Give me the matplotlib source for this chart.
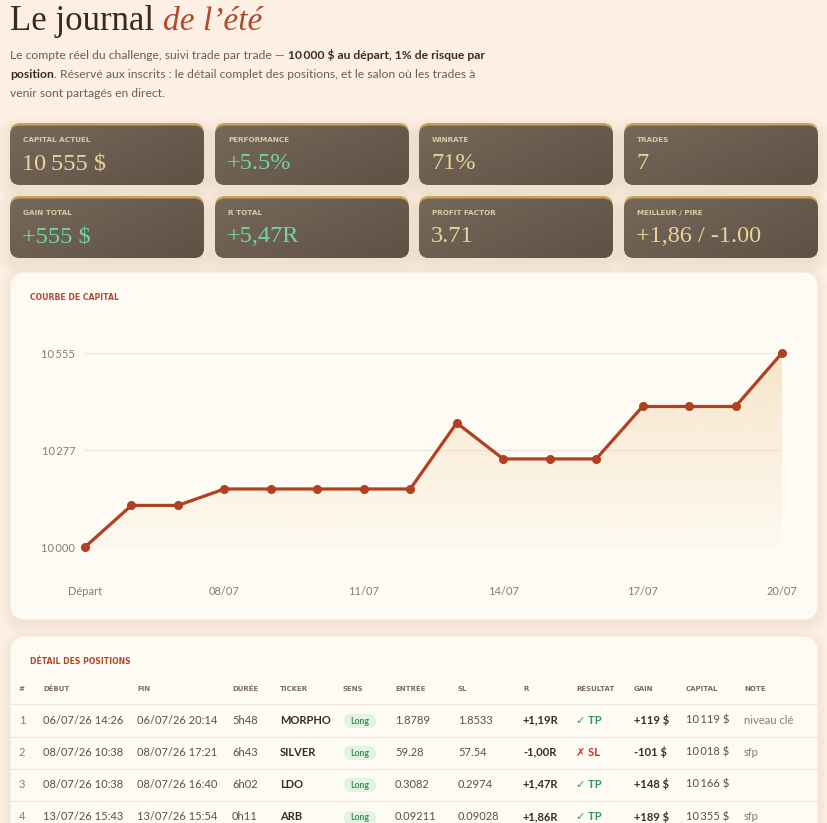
import numpy as np
import matplotlib
matplotlib.use("Agg")
import matplotlib.pyplot as plt
from matplotlib.patches import FancyBboxPatch, Polygon

W, H = 828, 823

# ---- data -------------------------------------------------------------
days = ["Départ", "06/07", "07/07", "08/07", "09/07", "10/07", "11/07", "12/07",
        "13/07", "14/07", "15/07", "16/07", "17/07", "18/07", "19/07", "20/07"]
capital = [10000, 10119, 10119, 10166, 10166, 10166, 10166, 10166,
           10355, 10252, 10252, 10252, 10402, 10402, 10402, 10555]
ytick_vals = [10000, 10277, 10555]
ytick_labels = ["10\u2009000", "10\u2009277", "10\u2009555"]
xtick_idx = [0, 3, 6, 9, 12, 15]

card_labels = ["CAPITAL ACTUEL", "PERFORMANCE", "WINRATE", "TRADES",
               "GAIN TOTAL", "R TOTAL", "PROFIT FACTOR", "MEILLEUR / PIRE"]
card_values = ["10\u2009555 $", "+5.5%", "71%", "7",
               "+555 $", "+5,47R", "3.71", "+1,86 / -1.00"]
card_green = [False, True, False, False, True, True, False, False]

headers = ["#", "DÉBUT", "FIN", "DURÉE", "TICKER", "SENS", "ENTRÉE", "SL",
           "R", "RÉSULTAT", "GAIN", "CAPITAL", "NOTE"]
trades = [
    ["1", "06/07/26 14:26", "06/07/26 20:14", "5h48", "MORPHO", "Long", "1.8789", "1.8533",
     "+1,19R", "✓ TP", "+119 $", "10\u2009119 $", "niveau clé"],
    ["2", "08/07/26 10:38", "08/07/26 17:21", "6h43", "SILVER", "Long", "59.28", "57.54",
     "-1,00R", "✗ SL", "-101 $", "10\u2009018 $", "sfp"],
    ["3", "08/07/26 10:38", "08/07/26 16:40", "6h02", "LDO", "Long", "0.3082", "0.2974",
     "+1,47R", "✓ TP", "+148 $", "10\u2009166 $", ""],
    ["4", "13/07/26 15:43", "13/07/26 15:54", "0h11", "ARB", "Long", "0.09211", "0.09028",
     "+1,86R", "✓ TP", "+189 $", "10\u2009355 $", "sfp"],
]

# ---- style ------------------------------------------------------------
BG = "#fcefe3"
PANEL = "#fefbf4"
RUST = "#b0401f"
TXT = "#6e5e52"
DARK = "#3b2b22"
SANS = ["Lato", "DejaVu Sans"]
CAPS = ["DejaVu Sans"]
SERIF = ["Liberation Serif", "DejaVu Serif"]
plt.rcParams["font.family"] = SANS

fig = plt.figure(figsize=(W / 100, H / 100), dpi=100, facecolor=BG)
bg = fig.add_axes([0, 0, 1, 1])
bg.set_xlim(0, W)
bg.set_ylim(H, 0)
bg.axis("off")
renderer = fig.canvas.get_renderer()


def rbox(x, y, w, h, r, **kw):
    p = FancyBboxPatch((x, y), w, h, boxstyle=f"round,pad=0,rounding_size={r}", **kw)
    bg.add_patch(p)
    return p


def shadow(x, y, w, h, r, color="#b08a62", n=7, a=0.025, dy=5):
    for i in range(n):
        g = (i + 1) * 2
        rbox(x - g + 2, y - g + dy + 2, w + 2 * g - 4, h + 2 * g - 4, r + g,
             facecolor=color, edgecolor="none", alpha=a, zorder=0.5)


def runs(x, y, parts, size, color, bold_color):
    for txt, bold in parts:
        t = bg.text(x, y, txt, fontsize=size, color=bold_color if bold else color,
                    fontweight="bold" if bold else "normal", va="center", ha="left",
                    family=SANS)
        x += t.get_window_extent(renderer=renderer).width


# ---- title ------------------------------------------------------------
t = bg.text(10, 30, "Le journal ", fontsize=25, color="#3a2920", family=SERIF,
            va="baseline")
tw = t.get_window_extent(renderer=renderer).width
bg.text(10 + tw, 30, "de l’été", fontsize=24, color="#b5472f", family=SERIF,
        style="italic", va="baseline")

runs(10, 55, [("Le compte réel du challenge, suivi trade par trade — ", False),
              ("10\u2009000 $ au départ, 1% de risque par", True)], 8.7, TXT, DARK)
runs(10, 74, [("position", True),
              (". Réservé aux inscrits : le détail complet des positions, et le salon où les trades à", False)],
     8.7, TXT, DARK)
runs(10, 93, [("venir sont partagés en direct.", False)], 8.7, TXT, DARK)

# ---- cards ------------------------------------------------------------
card_x = [10, 215, 419, 624]
card_y = [123, 196]
cw, ch = 194, 62
grad = np.linspace(0, 1, 64)
gx, gy = np.meshgrid(grad, grad)
gv = 0.6 * gx + 0.4 * gy
c0 = np.array([0.46, 0.41, 0.35])
c1 = np.array([0.37, 0.32, 0.27])
img = c0[None, None, :] * (1 - gv[..., None]) + c1[None, None, :] * gv[..., None]

for k in range(8):
    x = card_x[k % 4]
    y = card_y[k // 4]
    shadow(x, y, cw, ch, 10, a=0.018, dy=6)
    rbox(x, y, cw, ch, 10, facecolor="#c9a15a", edgecolor="none", zorder=1)
    clip = rbox(x, y + 2.5, cw, ch - 2.5, 10, facecolor="none", edgecolor="none", zorder=1)
    im = bg.imshow(img, extent=[x, x + cw, y + ch, y + 2.5], aspect="auto", zorder=1.2,
                   interpolation="bilinear")
    im.set_clip_path(clip)
    bg.text(x + 13, y + 17, card_labels[k], fontsize=5.2, fontweight="bold",
            color="#dcc9a4", va="center", family=CAPS, zorder=3)
    bg.text(x + 12, y + 46, card_values[k], fontsize=17.5,
            color="#74d3a2" if card_green[k] else "#ecd39a", va="baseline",
            family=SERIF, zorder=3)

# ---- chart panel ------------------------------------------------------
shadow(10, 272, 808, 348, 16, n=6, a=0.015, dy=4)
rbox(10, 272, 808, 348, 16, facecolor=PANEL, edgecolor="#f4e9dc", lw=0.8, zorder=1)
bg.text(30, 298, "COURBE DE CAPITAL", fontsize=5.6, fontweight="bold",
        color="#b5472f", va="center", family=CAPS, zorder=3)

ax = fig.add_axes([85 / W, 1 - 547 / H, (782 - 85) / W, (547 - 353) / H], zorder=2)
ax.set_facecolor("none")
for s in ax.spines.values():
    s.set_visible(False)
ax.set_yticks(ytick_vals)
ax.set_yticklabels(ytick_labels)
ax.set_xticks(xtick_idx)
ax.set_xticklabels([days[i] for i in xtick_idx])
ax.tick_params(axis="both", length=0, labelsize=8, labelcolor="#8a7b70")
ax.tick_params(axis="y", pad=7)
ax.tick_params(axis="x", pad=28)
ax.grid(axis="y", color="#efe6da", lw=0.9)
ax.set_axisbelow(True)

xs = np.arange(len(days))
poly = Polygon(np.column_stack([np.r_[xs, xs[-1], xs[0]],
                                np.r_[capital, 10000, 10000]]),
               closed=True, facecolor="none", edgecolor="none")
ax.add_patch(poly)
fill = np.ones((100, 2, 4))
fill[..., :3] = matplotlib.colors.to_rgb("#f3d3a8")
fill[..., 3] = np.linspace(0.55, 0.05, 100)[:, None]
fim = ax.imshow(fill, extent=[0, 15, 10000, 10555], aspect="auto", origin="upper",
                zorder=1)
fim.set_clip_path(poly)
ax.plot(xs, capital, color=RUST, lw=2.3, marker="o", ms=5.5, zorder=3, clip_on=False)
ax.set_xlim(0, len(days) - 1)
ax.set_ylim(10000, 10555)

# ---- table panel ------------------------------------------------------
shadow(10, 636, 808, 260, 16, n=6, a=0.015, dy=4)
rbox(10, 636, 808, 260, 16, facecolor=PANEL, edgecolor="#f4e9dc", lw=0.8, zorder=1)
bg.text(30, 661, "DÉTAIL DES POSITIONS", fontsize=5.6, fontweight="bold",
        color="#b5472f", va="center", family=CAPS, zorder=3)

col_x = [19, 43, 137, 232, 280, 343, 395, 458, 523, 576, 634, 686, 744]
for cx, hd in zip(col_x, headers):
    bg.text(cx, 689, hd, fontsize=5.0, fontweight="bold", color="#7d6d62",
            va="center", family=CAPS, zorder=3)

sep_y = [704, 737, 769, 801]
for sy in sep_y:
    bg.plot([10, 818], [sy, sy], color="#f0e5d8", lw=0.9, zorder=2)

row_y = [720, 752, 784, 817]
for ry, row in zip(row_y, trades):
    for j, (cx, val) in enumerate(zip(col_x, row)):
        kw = dict(fontsize=8, color="#5f4f44", va="center", zorder=3, family=SANS)
        if j == 0:
            kw["color"] = "#8a7b70"
        if j in (4, 8, 10):
            kw.update(fontweight="bold", color=DARK)
        if j == 9:
            kw.update(fontweight="bold",
                      color="#2f9a57" if "TP" in val else "#c8322a")
        if j == 12:
            kw["color"] = "#8a7b70"
        if j == 5:
            rbox(cx + 1, ry - 6, 32, 14, 7, facecolor="#e2f3e1", edgecolor="none",
                 zorder=2)
            bg.text(cx + 17, ry + 1, val, fontsize=6.3, fontweight="bold",
                    color="#3f8f5a", ha="center", va="center", zorder=3)
            continue
        bg.text(cx, ry, val, **kw)

bg.set_xlim(0, W)
bg.set_ylim(H, 0)
fig.savefig("out.png", dpi=100, facecolor=BG)
